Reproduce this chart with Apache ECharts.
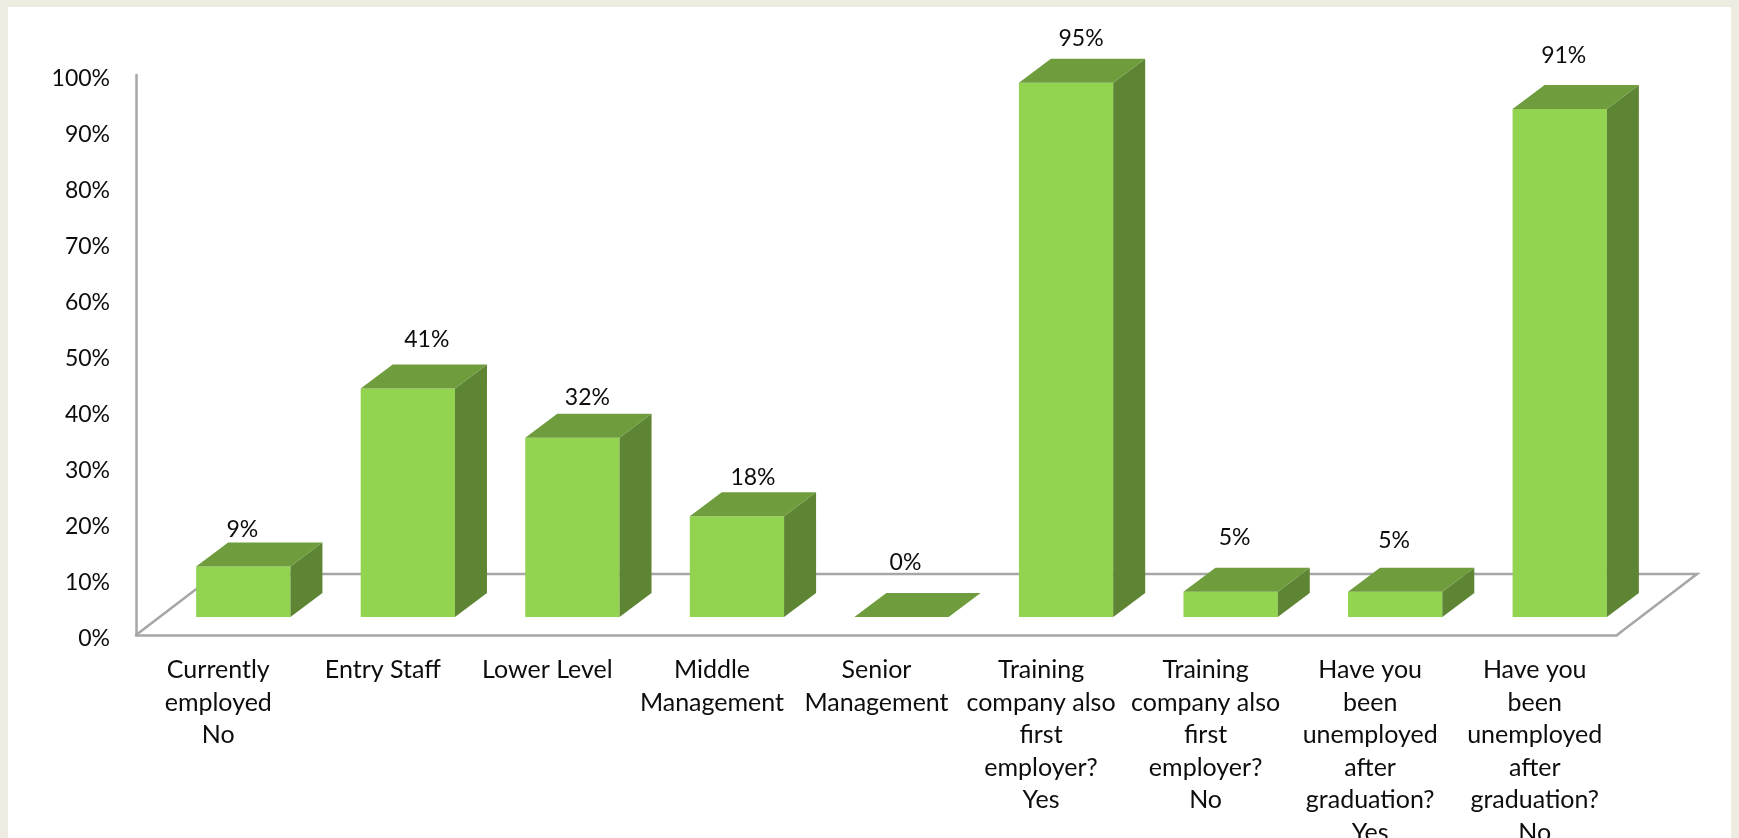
<!DOCTYPE html>
<html>
<head>
<meta charset="utf-8">
<style>
  html, body { margin: 0; height: 100%; background: #eeece1; overflow: hidden; }
  #panel { position: absolute; left: 8px; top: 7px; right: 8px; bottom: 0; background: #fff; }
  #chart { position: absolute; left: 0; top: 0; width: 1739px; height: 838px; }
</style>
<script src="https://cdn.jsdelivr.net/npm/echarts@6/dist/echarts.min.js"></script>
</head>
<body>
<div id="panel"></div>
<div id="chart"></div>
<script>
const categories = [
  "Currently\nemployed\nNo",
  "Entry Staff",
  "Lower Level",
  "Middle\nManagement",
  "Senior\nManagement",
  "Training\ncompany also\nfirst\nemployer?\nYes",
  "Training\ncompany also\nfirst\nemployer?\nNo",
  "Have you\nbeen\nunemployed\nafter\ngraduation?\nYes",
  "Have you\nbeen\nunemployed\nafter\ngraduation?\nNo",
];
// bar heights, the labels show them rounded
const percents = [9, 40.8, 32, 18, 0, 95.4, 4.5, 4.5, 90.7];
const yTicks = { min: 0, max: 100, interval: 10 };

// hand-placed data labels in the original, pixels from the top of the front face
const labelNudgeX = [-1, 19, 15, 16, 4, 15, 4, -1, 4];
const labelNudgeY = [-37, -49, -40, -39, -54, -44, -54, -51, -54];

const FONT = "Lato";
const AXIS_GREY = "#a6a6a6";

function renderFloor(params) {
  const cs = params.coordSys;
  const left = cs.x;
  const right = cs.x + cs.width;
  const bottom = cs.y + cs.height;
  const depthX = 80;
  const depthY = 61;
  return {
    type: "polyline",
    shape: {
      points: [
        [left, bottom],
        [left + depthX, bottom - depthY],
        [right + depthX, bottom - depthY],
        [right, bottom],
      ],
    },
    style: { stroke: AXIS_GREY, lineWidth: 2.5, fill: null },
  };
}

function renderBar(params, api) {
  const i = api.value(0);
  const value = api.value(1);
  const base = api.coord([i, 0]);
  const top = api.coord([i, value]);
  const band = api.size([1, 0])[0];
  const width = band * 0.573;
  const shiftX = 25;
  const shiftY = -18;
  const depthX = 32;
  const depthY = 24;

  const x0 = base[0] + shiftX - width / 2;
  const x1 = x0 + width;
  const y0 = base[1] + shiftY;
  const y1 = top[1] + shiftY;

  const children = [];
  if (value > 0) {
    children.push({
      type: "rect",
      shape: { x: x0, y: y1, width: width, height: y0 - y1 },
      style: { fill: "#92d350" },
    });
    children.push({
      type: "polygon",
      shape: { points: [[x1, y0], [x1 + depthX, y0 - depthY], [x1 + depthX, y1 - depthY], [x1, y1]] },
      style: { fill: "#5e8533" },
    });
  }
  children.push({
    type: "polygon",
    shape: { points: [[x0, y1], [x1, y1], [x1 + depthX, y1 - depthY], [x0 + depthX, y1 - depthY]] },
    style: { fill: "#6f9c3c" },
  });
  children.push({
    type: "text",
    style: {
      text: Math.round(value) + "%",
      x: (x0 + x1) / 2 + labelNudgeX[i],
      y: y1 + labelNudgeY[i],
      align: "center",
      verticalAlign: "middle",
      font: "23px " + FONT,
      fill: "#0d0d0d",
    },
  });
  return { type: "group", children: children };
}

const chart = echarts.init(document.getElementById("chart"));
chart.setOption({
  animation: false,
  textStyle: { fontFamily: FONT },
  grid: { left: 136, top: 75, width: 1481, height: 560, outerBoundsMode: "none" },
  xAxis: {
    type: "category",
    data: categories,
    axisTick: { show: false },
    axisLine: { lineStyle: { color: AXIS_GREY, width: 2.5 } },
    axisLabel: {
      interval: 0,
      margin: 19,
      color: "#0d0d0d",
      fontFamily: FONT,
      fontSize: 25,
      lineHeight: 32.5,
      verticalAlign: "top",
    },
  },
  yAxis: {
    type: "value",
    min: yTicks.min,
    max: yTicks.max,
    interval: yTicks.interval,
    splitLine: { show: false },
    axisTick: { show: false },
    axisLine: { show: true, lineStyle: { color: AXIS_GREY, width: 2.5 } },
    axisLabel: {
      margin: 26,
      verticalAlign: "top",
      lineHeight: 8,
      color: "#0d0d0d",
      fontFamily: FONT,
      fontSize: 23,
      formatter: "{value}%",
    },
  },
  series: [
    {
      type: "custom",
      silent: true,
      renderItem: renderFloor,
      data: [[0, 0]],
      encode: { x: 0, y: 1 },
    },
    {
      type: "custom",
      renderItem: renderBar,
      data: percents.map((v, i) => [i, v]),
      encode: { x: 0, y: 1 },
    },
  ],
});
</script>
</body>
</html>
